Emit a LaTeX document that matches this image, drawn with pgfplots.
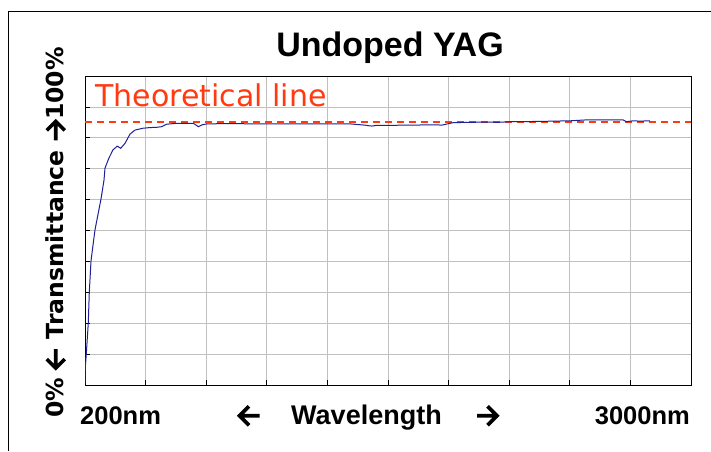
\documentclass[border=0pt]{standalone}
\usepackage{fontspec}
\setmainfont{Liberation Sans}
\newfontfamily\dejavu{DejaVu Sans}
\newfontfamily\theofont{DejaVu Sans}
\usepackage{pgfplots}
\pgfplotsset{compat=1.18}
\definecolor{curveblue}{HTML}{1F1F99}
\definecolor{theored}{HTML}{FF3A10}
\definecolor{gridgray}{HTML}{C0C0C0}
\newcommand\rarr{\tikz[baseline=-0.33em]\draw[line width=0.15em, line cap=butt, line join=miter, miter limit=4] (0,0)--(0.8em,0) (0.42em,0.38em)--(0.8em,0)--(0.42em,-0.38em);}
\newcommand\larr{\tikz[baseline=-0.33em]\draw[line width=0.15em, line cap=butt, line join=miter, miter limit=4] (0.8em,0)--(0,0) (0.38em,0.38em)--(0,0)--(0.38em,-0.38em);}
\pgfplotstableread{
x y
200 85.2
3200 85.2
}\theoline
\begin{document}
\begin{tikzpicture}
\useasboundingbox (0,0) rectangle (711pt,451pt);
\fill[white] (0,0) rectangle (711pt,451pt);
% outer frame (open on right and bottom)
\draw[black, line width=1.3pt] (8.3pt,0pt) -- (8.3pt,439.7pt) -- (711pt,439.7pt);
\begin{axis}[
  at={(85pt,66pt)}, anchor=south west,
  scale only axis, width=606pt, height=309pt,
  xmin=200, xmax=3200, ymin=0, ymax=100,
  xtick={200,500,...,3200}, ytick={0,10,...,100},
  xticklabels={}, yticklabels={},
  xtick pos=lower, ytick pos=left,
  tick align=inside, major tick length=5pt,
  tick style={black, line width=0.8pt},
  grid=major, grid style={gridgray, line width=0.8pt},
  axis line style={black, line width=1pt},
  clip=true,
]
\addplot[theored, no marks, line width=1.7pt, dash pattern=on 7pt off 5pt] table {\theoline};
\addplot[color=curveblue, no marks, line width=1pt] coordinates {
(200,0.5) (200.8,3) (201.5,5.8) (206.4,10.0) (216.3,20.1) (221.3,30.1)
(229.7,40.1) (241.1,46.0) (249.5,50.2) (279.2,60.2) (294.1,66.3) (299,70.2)
(318.8,73.5) (338.6,76.1) (359.9,77.3) (376.7,76.6) (398,78.2) (422.8,81.2)
(447.5,82.5) (487.1,83.1) (520,83.3) (554.9,83.4) (580,83.6) (604.4,84.4) (653.9,84.7)
(700,84.7) (736.1,84.7) (748,84.2) (760.9,83.6) (780,84.2) (802.5,84.5) (900,84.6)
(1066,84.5) (1300,84.5) (1512,84.5) (1586,84.1) (1605,83.9) (1621,83.8) (1640,84.0) (1660,84.0)
(1800,84.1) (1938,84.2) (1966,84.1) (2022,84.9) (2100,85.0) (2205,85.1) (2238,85.0)
(2304,85.2) (2450,85.3) (2601,85.5) (2684,85.8) (2800,85.8) (2863,85.8) (2881,85.2)
(2913,85.5) (2948,85.4) (2997,85.5)
};
\end{axis}
% title
\node[anchor=base, inner sep=0pt, font=\fontsize{34}{38}\selectfont\bfseries] at (390pt,395pt) {Undoped YAG};
% theoretical line label
\node[anchor=base west, inner sep=0pt, text=theored, font=\theofont\fontsize{30}{34}\selectfont] at (95pt,344.3pt) {Theoretical line};
% y label
\node[anchor=base, rotate=90, inner sep=0pt, font=\dejavu\bfseries\fontsize{23.5}{26}\selectfont] at (63.5pt,218.5pt) {0\% \larr{} Transmittance \rarr{}100\%};
% x labels
\node[anchor=base west, inner sep=0pt, font=\fontsize{25.5}{28}\selectfont\bfseries] at (80pt,27pt) {200nm};
\node[anchor=base, inner sep=0pt, font=\bfseries\fontsize{25}{28}\selectfont] at (249.5pt,27pt) {\larr};
\node[anchor=base, inner sep=0pt, font=\fontsize{27}{28}\selectfont\bfseries] at (366.5pt,27pt) {Wavelength};
\node[anchor=base, inner sep=0pt, font=\bfseries\fontsize{25}{28}\selectfont] at (487pt,27pt) {\rarr};
\node[anchor=base east, inner sep=0pt, font=\fontsize{25.5}{28}\selectfont\bfseries] at (690pt,27pt) {3000nm};
\end{tikzpicture}
\end{document}
